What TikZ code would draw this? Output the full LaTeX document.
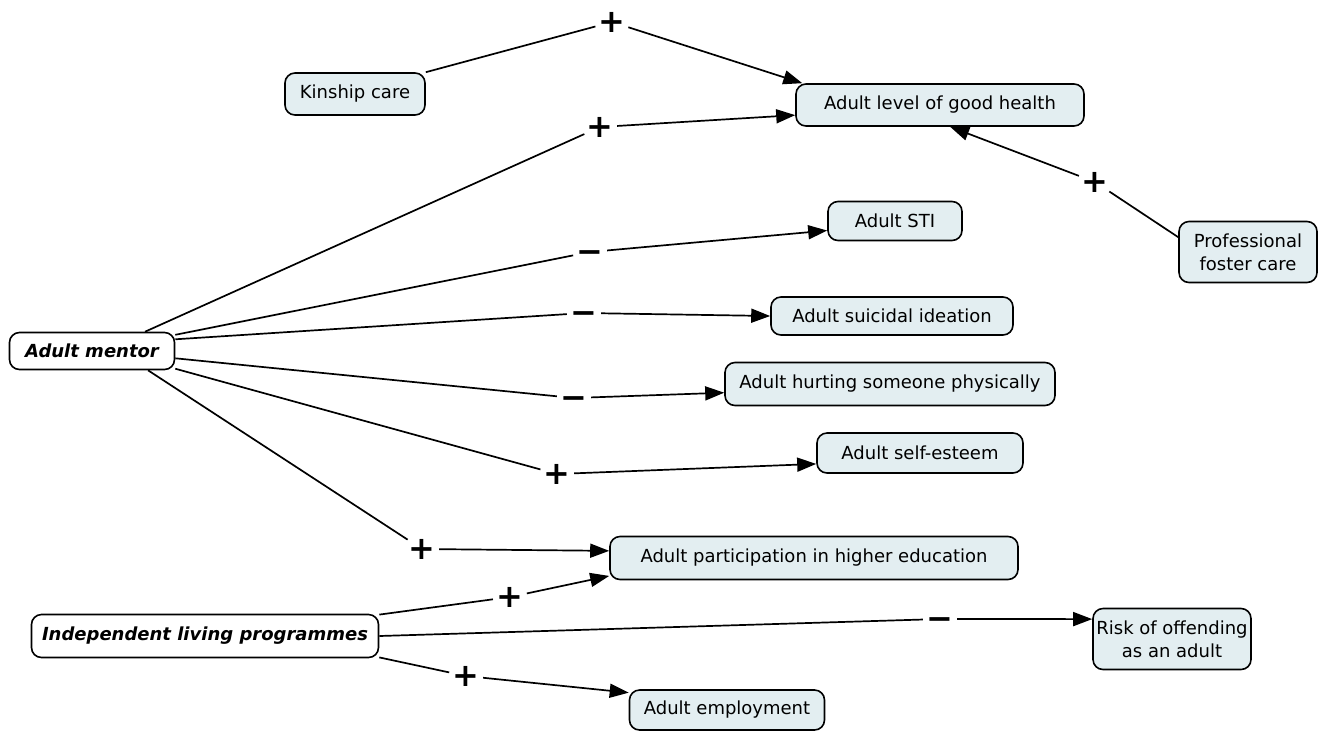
\documentclass[tikz,border=0pt]{standalone}
\usepackage{fontspec}
\setmainfont{DejaVu Sans}
\usetikzlibrary{arrows.meta}
\definecolor{boxfill}{HTML}{E3EEF1}
\begin{document}
\begin{tikzpicture}[x=1pt,y=-1pt,
  box/.style={draw, line width=1.6pt, rounded corners=10pt, fill=boxfill,
    font=\fontsize{18}{23}\selectfont, align=center, inner sep=0pt},
  mainbox/.style={box, fill=white, font=\fontsize{18}{23}\selectfont\bfseries\itshape},
  sign/.style={circle, inner sep=0pt, minimum size=34pt, font=\fontsize{32}{32}\selectfont\bfseries},
  link/.style={line width=1.7pt},
  arr/.style={link, -{Triangle[length=19pt,width=14pt]}}]
\useasboundingbox (0,0) rectangle (1324,732);

% boxes
\node[box, minimum width=140pt, minimum height=42pt] (kin) at (355,94) {Kinship care};
\node[box, minimum width=288pt, minimum height=42pt] (health) at (940,105) {Adult level of good health};
\node[box, minimum width=134pt, minimum height=39pt] (sti) at (895,221) {Adult STI};
\node[box, minimum width=138pt, minimum height=61pt] (foster) at (1248,252) {Professional\\foster care};
\node[mainbox, minimum width=165pt, minimum height=37pt] (mentor) at (92,351) {Adult mentor};
\node[box, minimum width=242pt, minimum height=38pt] (suicidal) at (892,316) {Adult suicidal ideation};
\node[box, minimum width=330pt, minimum height=43pt] (hurt) at (890,384) {Adult hurting someone physically};
\node[box, minimum width=206pt, minimum height=40pt] (esteem) at (920,453) {Adult self-esteem};
\node[box, minimum width=408pt, minimum height=43pt] (higher) at (814,558) {Adult participation in higher education};
\node[mainbox, minimum width=347pt, minimum height=43pt] (ilp) at (205,636) {Independent living programmes};
\node[box, minimum width=158pt, minimum height=61pt] (risk) at (1172,639) {Risk of offending\\as an adult};
\node[box, minimum width=195pt, minimum height=40pt] (employ) at (727,710) {Adult employment};

% signs
\node[sign] (s1) at (612,22) {\vphantom{+}+};
\node[sign] (s2) at (600,127) {\vphantom{+}+};
\node[sign] (s3) at (1095,182) {\vphantom{+}+};
\node[sign] (m1) at (590,252) {\vphantom{+}−};
\node[sign] (m2) at (584,313) {\vphantom{+}−};
\node[sign] (m3) at (574,398) {\vphantom{+}−};
\node[sign] (s4) at (557,474) {\vphantom{+}+};
\node[sign] (s5) at (422,549) {\vphantom{+}+};
\node[sign] (s6) at (510,597) {\vphantom{+}+};
\node[sign] (m4) at (940,619) {\vphantom{+}−};
\node[sign] (s7) at (466,676) {\vphantom{+}+};

% connectors
\draw[link] (kin.north east) -- (s1);
\draw[arr] (s1) -- (health.171);
\draw[link] (mentor.20) -- (s2);
\draw[arr] (s2) -- (health.184);
\draw[link] (foster.168) -- (s3);
\draw[arr] (s3) -- (health.295);
\draw[link] (mentor.11) -- (m1);
\draw[arr] (m1) -- (sti.188);
\draw[link] (mentor.8) -- (m2);
\draw[arr] (m2) -- (suicidal.west);
\draw[link] (mentor.-5) -- (m3);
\draw[arr] (m3) -- (hurt.183);
\draw[link] (mentor.-12) -- (s4);
\draw[arr] (s4) -- (esteem.186);
\draw[link] (mentor.-19) -- (s5);
\draw[arr] (s5) -- (higher.178);
\draw[link] (ilp.7) -- (s6);
\draw[arr] (s6) -- (higher.185);
\draw[link] (ilp.0) -- (m4);
\draw[arr] (m4) -- (risk.166);
\draw[link] (ilp.-7) -- (s7);
\draw[arr] (s7) -- (employ.170);
\end{tikzpicture}
\end{document}
